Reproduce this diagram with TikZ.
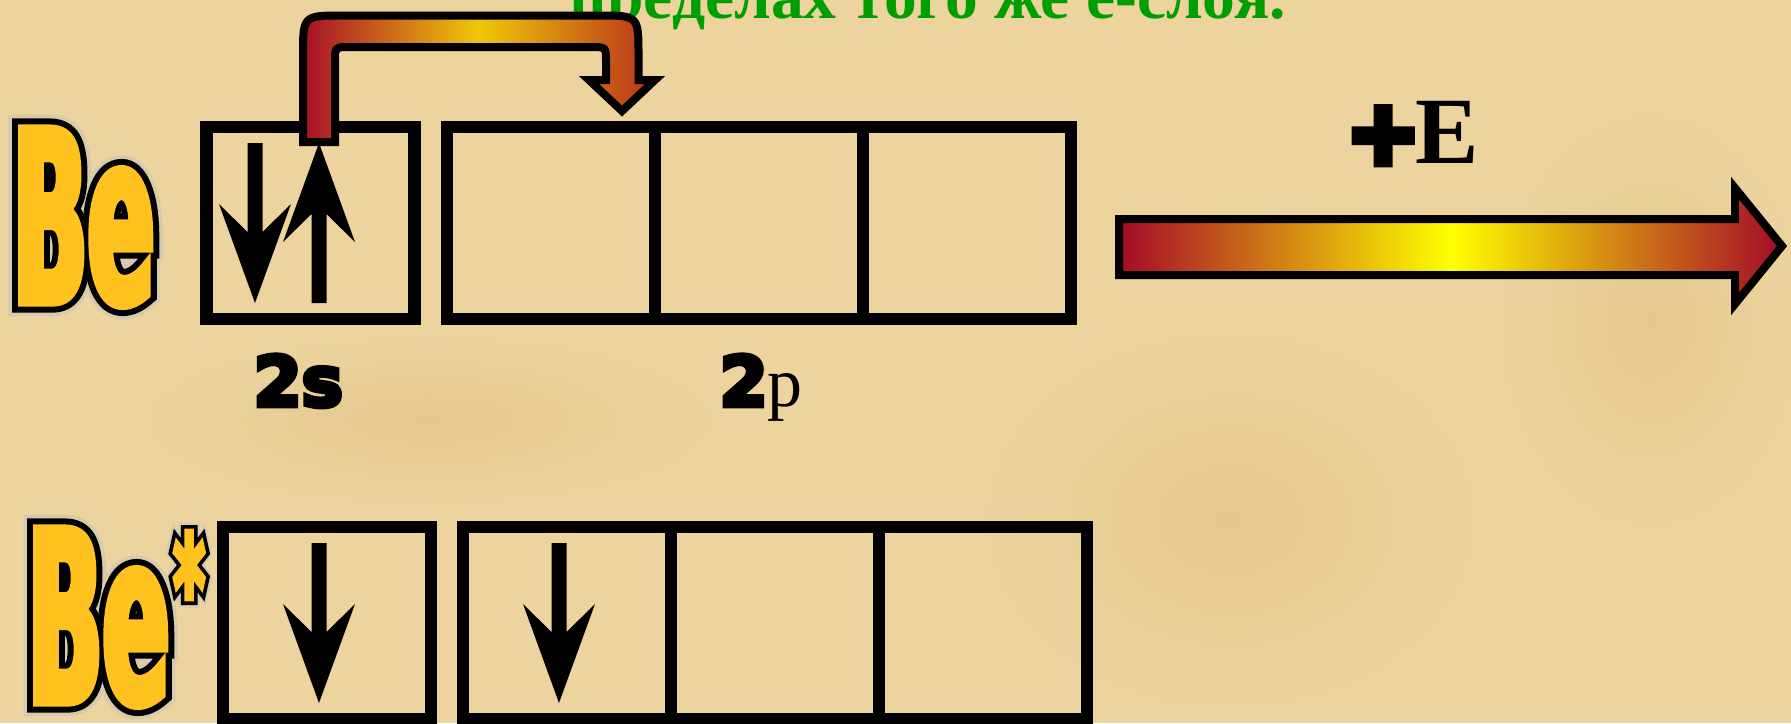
\documentclass[tikz,border=0pt]{standalone}
\usepackage{fontspec}
\usetikzlibrary{positioning}
\setmainfont{Liberation Serif}
\newfontfamily\behalo[FakeStretch=0.41,FakeBold=11]{DejaVu Sans Bold}
\newfontfamily\beline[FakeStretch=0.41,FakeBold=8]{DejaVu Sans Bold}
\newfontfamily\beink[FakeStretch=0.41,FakeBold=3]{DejaVu Sans Bold}
\newfontfamily\heavyfont[FakeBold=7]{DejaVu Sans Bold}
\newfontfamily\plusfont[FakeBold=10]{DejaVu Sans Bold}
\newfontfamily\serifbold{Liberation Serif Bold}
\definecolor{parch}{HTML}{EDD49E}
\definecolor{parchdk}{HTML}{E4C990}
\definecolor{beyel}{HTML}{FFC21E}
\definecolor{halo}{HTML}{D6CBAF}
\definecolor{tgreen}{HTML}{009E00}
\definecolor{adark}{HTML}{A50A28}
\definecolor{ayel}{HTML}{FFFF00}
\definecolor{hopred}{HTML}{A80F28}
\definecolor{hopyel}{HTML}{F0C80A}
\definecolor{hopor}{HTML}{B8301A}
\newcommand{\atomlbl}[1]{\rlap{\behalo\color{halo}#1}\rlap{\beline\color{black}#1}{\beink\color{beyel}#1}}
\newcommand{\spindn}[2]{\fill (#1-7.5,#2) -- (#1-7.5,#2+89) -- (#1-36,#2+61) -- (#1,#2+160) -- (#1+36,#2+61) -- (#1+7.5,#2+89) -- (#1+7.5,#2) -- cycle;}
\newcommand{\spinup}[2]{\fill (#1-7.5,#2) -- (#1-7.5,#2-89) -- (#1-36,#2-61) -- (#1,#2-160) -- (#1+36,#2-61) -- (#1+7.5,#2-89) -- (#1+7.5,#2) -- cycle;}
\begin{document}
\begin{tikzpicture}[x=0.1mm,y=-0.1mm,
  orb/.style={draw, line width=1.25mm, minimum width=20.8mm, minimum height=19.2mm, inner sep=0pt, outer sep=0pt},
  atom/.style={anchor=base west, inner sep=0pt, font=\fontsize{24mm}{24mm}\selectfont},
  sub/.style={anchor=base west, inner sep=0pt},
  blot/.style={inner color=parchdk, outer color=parch}]
 \useasboundingbox (0,0) rectangle (1791,723);
 \begin{scope}
 \clip (0,0) rectangle (1791,723);
 \fill[parch] (0,0) rectangle (1791,723);
 \shade[blot] (1230,520) ellipse (260 and 200);
 \shade[blot] (1650,320) ellipse (160 and 220);
 \shade[blot] (430,420) ellipse (300 and 90);
 \node[anchor=base west, inner sep=0pt, text=tgreen, font=\serifbold\fontsize{6.55mm}{6.55mm}\selectfont] (note) at (569,18.5) {пределах того же е-слоя.};
 % ground state
 \node[orb] (s1) at (310.5,223) {};
 \node[orb, right=3.25mm of s1] (p1x) {};
 \node[orb, right=0pt of p1x] (p1y) {};
 \node[orb, right=0pt of p1y] (p1z) {};
 \spindn{255}{143}
 \spinup{319}{303}
 \node[atom] (be) at (12,303) {\atomlbl{Be}};
 \node[sub] (l2s) at (253,406) {\heavyfont\fontsize{6.9mm}{6.9mm}\selectfont 2s};
 \node[sub] (l2p) at (719,406) {{\heavyfont\fontsize{6.9mm}{6.9mm}\selectfont 2}{\fontsize{7mm}{7mm}\selectfont p}};
 % electron hop
 \shadedraw[left color=hopred, right color=hopor, middle color=hopyel, line width=0.8mm]
  (303,142) -- (303,55.5) .. controls (303,15.5) .. (343,15.5) -- (598.5,15.5) .. controls (638.5,15.5) .. (638.5,55.5)
  -- (638.5,80) -- (655,80) -- (622,111) -- (589,80) -- (606,80) -- (606,62) .. controls (606,47) .. (591,47)
  -- (350,47) .. controls (335,47) .. (335,62) -- (335,142) -- cycle;
 % energy
 \node[sub] (pe) at (1346,163) {{\plusfont\fontsize{8.7mm}{8.7mm}\selectfont +}\kern-0.4mm{\serifbold\fontsize{9.5mm}{9.5mm}\selectfont E}};
 \shadedraw[left color=adark, right color=adark, middle color=ayel, line width=0.8mm]
  (1119,219) -- (1735,219) -- (1735,188) -- (1782,246) -- (1735,304) -- (1735,275) -- (1119,275) -- cycle;
 % excited state
 \node[orb] (s2) at (327,623) {};
 \node[orb, right=3.2mm of s2] (p2x) {};
 \node[orb, right=0pt of p2x] (p2y) {};
 \node[orb, right=0pt of p2y] (p2z) {};
 \spindn{319}{543}
 \spindn{559}{543}
 \node[atom] (bestar) at (27,703) {\atomlbl{Be\kern0.4mm\raisebox{6.3mm}{\fontsize{14.7mm}{14.7mm}\selectfont *}}};
 \end{scope}
\end{tikzpicture}
\end{document}
